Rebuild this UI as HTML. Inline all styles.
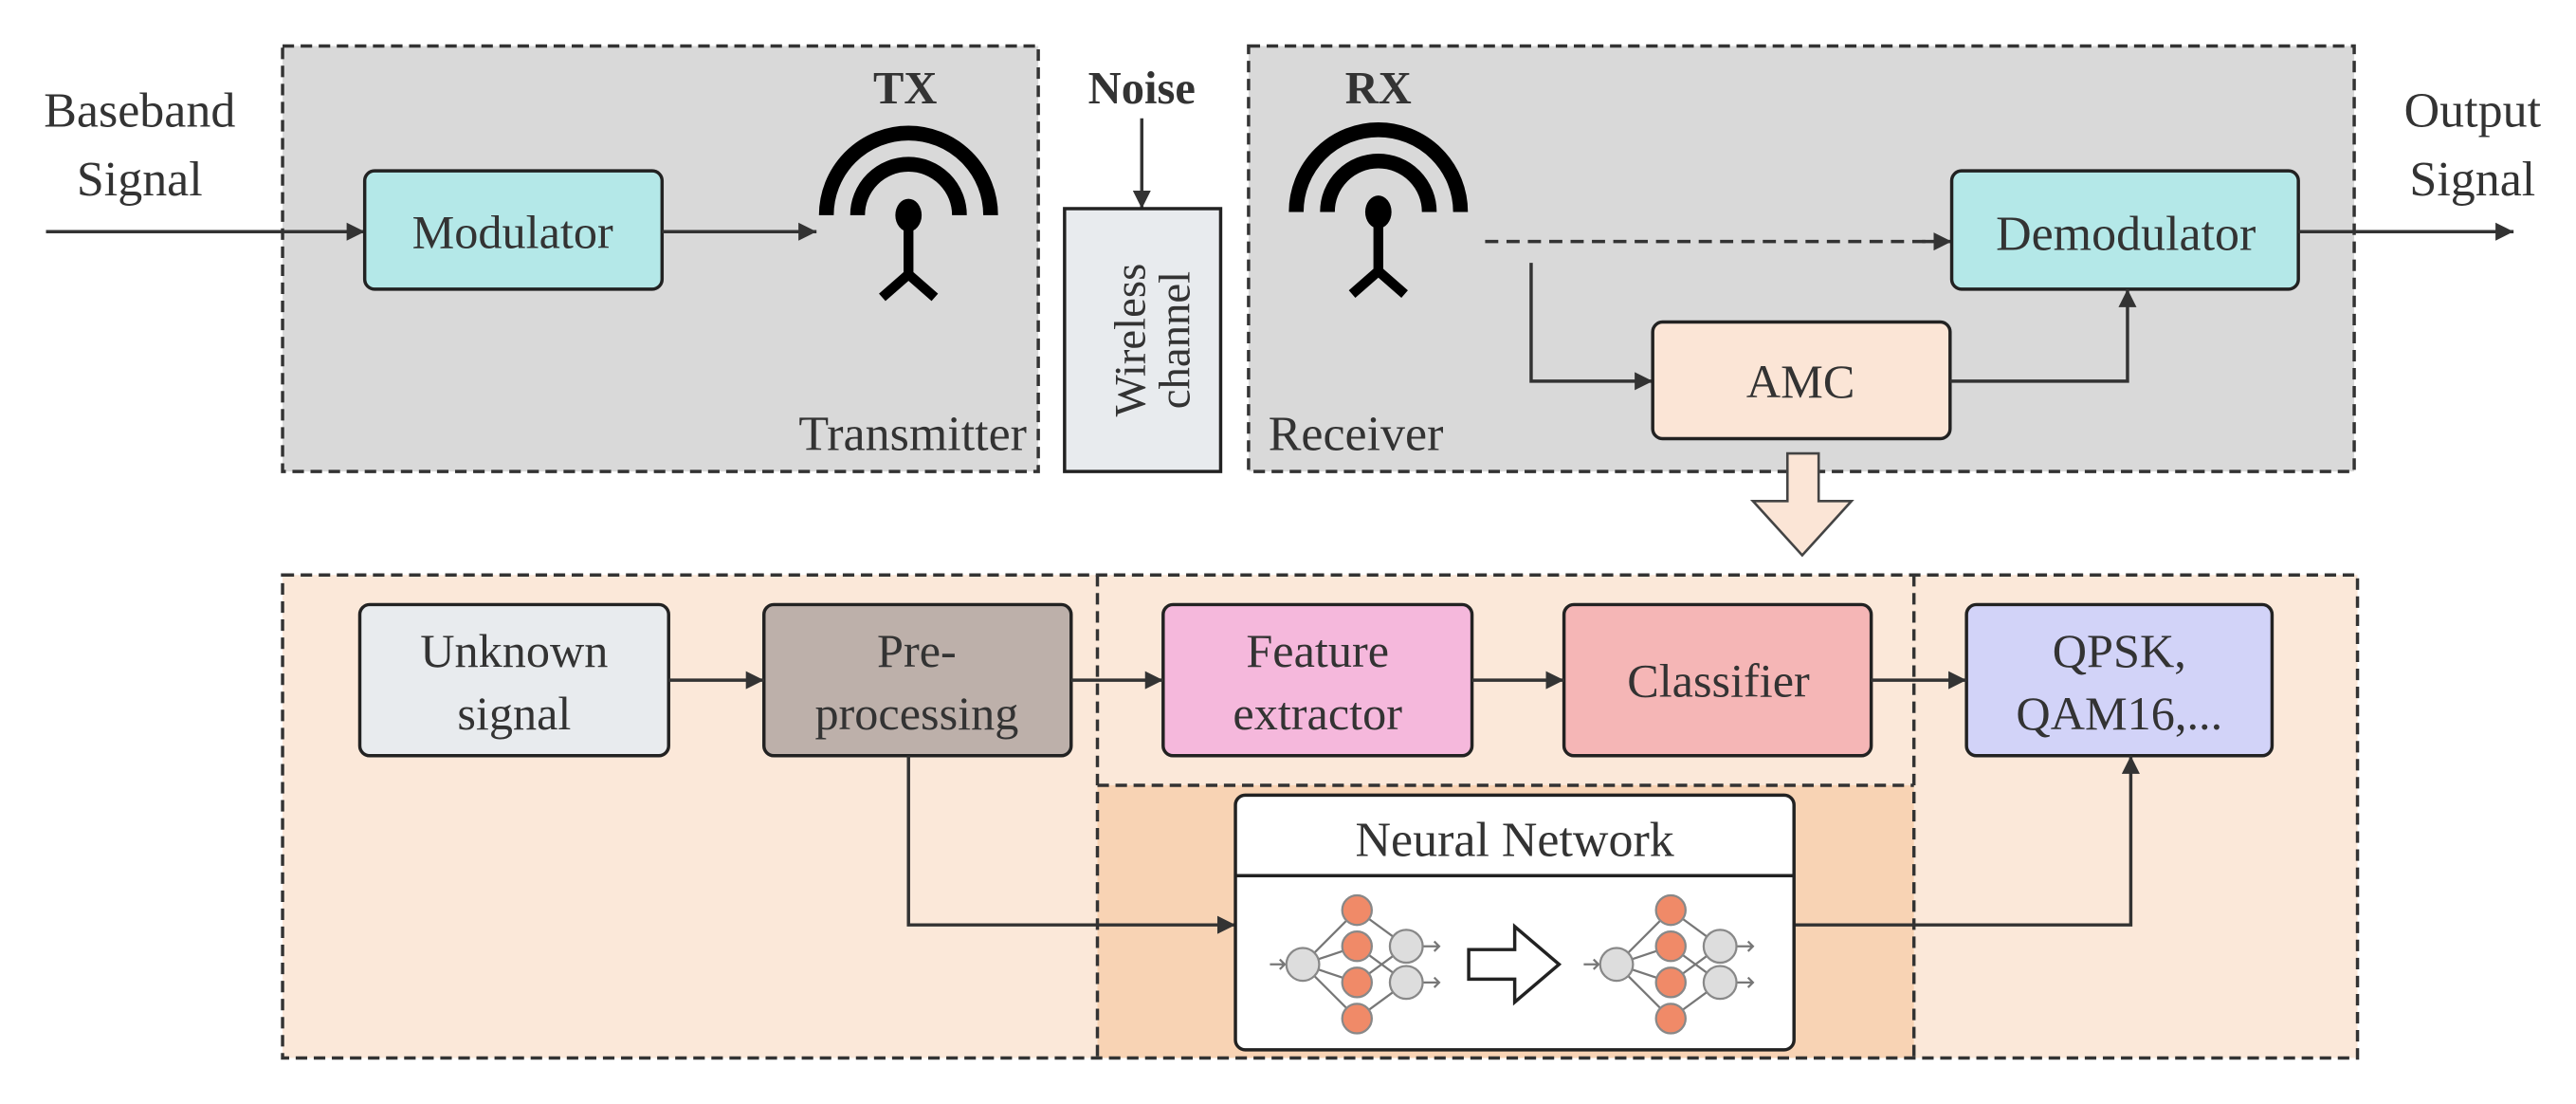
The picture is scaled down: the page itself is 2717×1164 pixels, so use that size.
<!DOCTYPE html>
<html><head><meta charset="utf-8"><style>html,body{margin:0;padding:0;background:#fff}svg{display:block}svg text{font-family:"Liberation Serif","DejaVu Serif",serif}</style></head>
<body>
<svg width="2717" height="1164" viewBox="0 0 1568 672" preserveAspectRatio="none" xmlns="http://www.w3.org/2000/svg" style="font-family:'Liberation Serif',serif" fill="#333">
<defs>
<marker id="a" viewBox="0 0 10 10" refX="10" refY="5" markerWidth="11" markerHeight="11" markerUnits="userSpaceOnUse" orient="auto"><path d="M0,0 L10,5 L0,10 z" fill="#333"/></marker>
<g id="ant" fill="none">
<path d="M-50,0 A50,50 0 0 1 50,0" stroke="#000" stroke-width="9"/>
<path d="M-31,0 A31,31 0 0 1 31,0" stroke="#000" stroke-width="9"/>
<ellipse cx="0" cy="0" rx="8" ry="10" fill="#000"/>
<path d="M0,5 L0,38 M0,36 L-16,50 M0,36 L16,50" stroke="#000" stroke-width="6"/>
</g>
<g id="nn">
<g stroke="#777" stroke-width="1.3" fill="none">
<path d="M0,0 L33,-33 M0,0 L33,-11 M0,0 L33,11 M0,0 L33,33 M33,-33 L63,-11 M33,-11 L63,11 M33,11 L63,-11 M33,33 L63,11"/>
<path d="M-20,0 H-11 M-14,-3 L-11,0 L-14,3 M73,-11 H83 M80,-14 L83,-11 L80,-8 M73,11 H83 M80,8 L83,11 L80,14"/>
</g>
<g stroke="#888" stroke-width="1.3">
<circle cx="0" cy="0" r="10" fill="#ddd"/>
<circle cx="63" cy="-11" r="10" fill="#ddd"/><circle cx="63" cy="11" r="10" fill="#ddd"/>
<circle cx="33" cy="-33" r="9" fill="#f08a68"/><circle cx="33" cy="-11" r="9" fill="#f08a68"/>
<circle cx="33" cy="11" r="9" fill="#f08a68"/><circle cx="33" cy="33" r="9" fill="#f08a68"/>
</g>
</g>
</defs>

<rect x="172" y="28" width="460" height="259" fill="#d9d9d9" stroke="#333" stroke-width="2" stroke-dasharray="7,4"/>
<rect x="760" y="28" width="673" height="259" fill="#d9d9d9" stroke="#333" stroke-width="2" stroke-dasharray="7,4"/>

<text x="85" y="77" font-size="30" text-anchor="middle">Baseband</text>
<text x="85" y="119" font-size="30" text-anchor="middle">Signal</text>
<line x1="28" y1="141" x2="222" y2="141" stroke="#333" stroke-width="2" marker-end="url(#a)"/>
<rect x="222" y="104" width="181" height="72" rx="6" fill="#b4e8e8" stroke="#222" stroke-width="2"/>
<text x="312" y="151" font-size="29" text-anchor="middle">Modulator</text>
<line x1="403" y1="141" x2="497" y2="141" stroke="#333" stroke-width="2" marker-end="url(#a)"/>
<text x="551" y="63" font-size="28" font-weight="bold" text-anchor="middle">TX</text>
<use href="#ant" x="553" y="131"/>
<text x="625" y="274" font-size="30" text-anchor="end">Transmitter</text>

<text x="695" y="63" font-size="28" font-weight="bold" text-anchor="middle">Noise</text>
<line x1="695" y1="72" x2="695" y2="127" stroke="#333" stroke-width="2" marker-end="url(#a)"/>
<rect x="648" y="127" width="95" height="160" fill="#e8ebee" stroke="#222" stroke-width="2"/>
<text transform="translate(697,207) rotate(-90)" font-size="27" text-anchor="middle">Wireless</text>
<text transform="translate(724,207) rotate(-90)" font-size="27" text-anchor="middle">channel</text>

<text x="839" y="63" font-size="28" font-weight="bold" text-anchor="middle">RX</text>
<use href="#ant" x="839" y="129"/>
<line x1="904" y1="147" x2="1188" y2="147" stroke="#333" stroke-width="2" stroke-dasharray="8,5"/>
<line x1="1170" y1="147" x2="1188" y2="147" stroke="#333" stroke-width="2" marker-end="url(#a)"/>
<rect x="1188" y="104" width="211" height="72" rx="6" fill="#b4e8e8" stroke="#222" stroke-width="2"/>
<text x="1294" y="152" font-size="30" text-anchor="middle">Demodulator</text>
<polyline points="932,160 932,232 1006,232" fill="none" stroke="#333" stroke-width="2" marker-end="url(#a)"/>
<rect x="1006" y="196" width="181" height="71" rx="6" fill="#fbe5d6" stroke="#222" stroke-width="2"/>
<text x="1096" y="242" font-size="29" text-anchor="middle">AMC</text>
<polyline points="1187,232 1295,232 1295,176" fill="none" stroke="#333" stroke-width="2" marker-end="url(#a)"/>
<line x1="1399" y1="141" x2="1530" y2="141" stroke="#333" stroke-width="2" marker-end="url(#a)"/>
<text x="1505" y="77" font-size="30" text-anchor="middle">Output</text>
<text x="1505" y="119" font-size="30" text-anchor="middle">Signal</text>
<text x="772" y="274" font-size="30">Receiver</text>

<path d="M1088,276 H1107 V305 H1127 L1097,338 L1067,305 H1088 Z" fill="#fbe5d6" stroke="#444" stroke-width="1.5"/>

<rect x="172" y="350" width="1263" height="294" fill="#fbe8d9"/>
<rect x="668" y="478" width="497" height="166" fill="#f8d3b4"/>
<g fill="none" stroke="#333" stroke-width="2" stroke-dasharray="7,4">
<rect x="172" y="350" width="1263" height="294"/>
<line x1="668" y1="350" x2="668" y2="644"/>
<line x1="1165" y1="350" x2="1165" y2="644"/>
<line x1="668" y1="478" x2="1165" y2="478"/>
</g>

<rect x="219" y="368" width="188" height="92" rx="6" fill="#e8ebee" stroke="#222" stroke-width="2"/>
<text x="313" y="406" font-size="29" text-anchor="middle">Unknown</text>
<text x="313" y="444" font-size="29" text-anchor="middle">signal</text>
<rect x="465" y="368" width="187" height="92" rx="6" fill="#bdb0aa" stroke="#222" stroke-width="2"/>
<text x="558" y="406" font-size="29" text-anchor="middle">Pre-</text>
<text x="558" y="444" font-size="29" text-anchor="middle">processing</text>
<rect x="708" y="368" width="188" height="92" rx="6" fill="#f5b8dc" stroke="#222" stroke-width="2"/>
<text x="802" y="406" font-size="29" text-anchor="middle">Feature</text>
<text x="802" y="444" font-size="29" text-anchor="middle">extractor</text>
<rect x="952" y="368" width="187" height="92" rx="6" fill="#f5b6b6" stroke="#222" stroke-width="2"/>
<text x="1046" y="424" font-size="29" text-anchor="middle">Classifier</text>
<rect x="1197" y="368" width="186" height="92" rx="6" fill="#d2d3f8" stroke="#222" stroke-width="2"/>
<text x="1290" y="406" font-size="29" text-anchor="middle">QPSK,</text>
<text x="1290" y="444" font-size="29" text-anchor="middle">QAM16,...</text>

<g stroke="#333" stroke-width="2" fill="none">
<line x1="407" y1="414" x2="465" y2="414" marker-end="url(#a)"/>
<line x1="652" y1="414" x2="708" y2="414" marker-end="url(#a)"/>
<line x1="896" y1="414" x2="952" y2="414" marker-end="url(#a)"/>
<line x1="1139" y1="414" x2="1197" y2="414" marker-end="url(#a)"/>
<polyline points="553,460 553,563 752,563" marker-end="url(#a)"/>
<polyline points="1092,563 1297,563 1297,460" marker-end="url(#a)"/>
</g>

<rect x="752" y="484" width="340" height="155" rx="6" fill="#fff" stroke="#222" stroke-width="2"/>
<line x1="752" y1="533" x2="1092" y2="533" stroke="#222" stroke-width="2"/>
<text x="922" y="521" font-size="30" text-anchor="middle">Neural Network</text>
<use href="#nn" x="793" y="587"/>
<path d="M894,578 H922 V564 L949,587 L922,610 V596 H894 Z" fill="#fff" stroke="#222" stroke-width="2"/>
<use href="#nn" x="984" y="587"/>
</svg>
</body></html>
